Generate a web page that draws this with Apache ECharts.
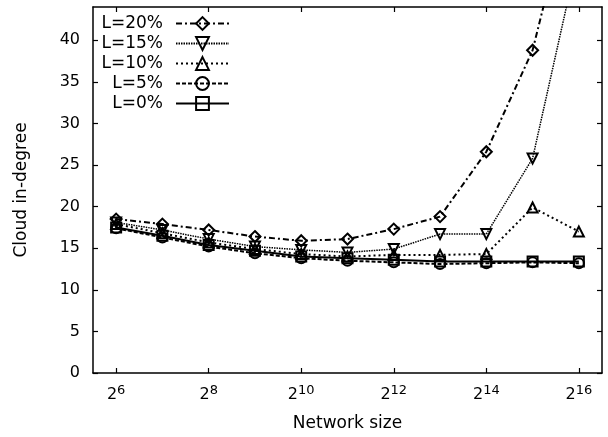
<!DOCTYPE html>
<html><head><meta charset="utf-8">
<script src="https://cdn.jsdelivr.net/npm/echarts@6/dist/echarts.min.js"></script>
<style>html,body{margin:0;padding:0;background:#fff}#c{width:608px;height:437px}</style>
</head><body><div id="c"></div>
<script>
// ---- data ----
const exponents = [6, 7, 8, 9, 10, 11, 12, 13, 14, 15, 16];
const seriesNames = ['L=20%', 'L=15%', 'L=10%', 'L=5%', 'L=0%'];
const l20 = [18.5, 17.9, 17.2, 16.4, 15.9, 16.1, 17.3, 18.8, 26.6, 38.8, 61.2];
const l15 = [18.1, 17.2, 16.1, 15.2, 14.8, 14.5, 14.9, 16.7, 16.7, 25.8, 50.7];
const l10 = [17.9, 16.8, 15.7, 14.9, 14.3, 14.0, 14.2, 14.2, 14.3, 19.9, 17.0];
const l5  = [17.4, 16.3, 15.2, 14.4, 13.8, 13.5, 13.3, 13.1, 13.2, 13.3, 13.2];
const l0  = [17.5, 16.5, 15.4, 14.7, 14.0, 13.8, 13.6, 13.4, 13.4, 13.4, 13.4];
const xTickExponents = [6, 8, 10, 12, 14, 16];
const yTickValues = [0, 5, 10, 15, 20, 25, 30, 35, 40];

// ---- styles ----
const FONT = 'DejaVu Sans';
const seriesValues = [l20, l15, l10, l5, l0];
const styles = [
  {symbol: 'diamond', size: 11, dash: [6, 3, 2, 3], width: 2},
  {symbol: 'path://M0,0L10,0L5,9Z', size: 10, dash: [1.5, 1], width: 1.5},
  {symbol: 'triangle', size: 10, dash: [2, 3], width: 2},
  {symbol: 'circle', size: 10, dash: [4, 2], width: 2},
  {symbol: 'rect', size: 10, dash: 'solid', width: 2}
];

const series = seriesNames.map((name, i) => ({
  name: name,
  type: 'line',
  xAxisIndex: 0,
  yAxisIndex: 0,
  data: exponents.map((e, j) => [e, seriesValues[i][j]]),
  symbol: styles[i].symbol,
  symbolSize: styles[i].size,
  showAllSymbol: true,
  clip: true,
  z: 10 - i,
  itemStyle: {color: 'rgba(255,255,255,0)', borderColor: '#000', borderWidth: 2},
  lineStyle: {color: '#000', width: styles[i].width, type: styles[i].dash},
  emphasis: {disabled: true},
  animation: false
}));

const axisCommon = {
  axisLine: {show: true, onZero: false, lineStyle: {color: '#000', width: 1.5}},
  splitLine: {show: false}
};

const chart = echarts.init(document.getElementById('c'), null, {renderer: 'canvas'});
chart.setOption({
  animation: false,
  backgroundColor: '#fff',
  grid: {left: 93, right: 6, top: 7, bottom: 62.5, containLabel: false},
  legend: {
    orient: 'vertical', right: 378, top: 15, align: 'right',
    itemWidth: 53, itemHeight: 16, itemGap: 3, padding: 0,
    textStyle: {fontFamily: FONT, fontSize: 17, color: '#000', padding: [0, 8, 0, 0]},
    data: seriesNames,
    selectedMode: false
  },
  xAxis: [
    Object.assign({}, axisCommon, {
      type: 'value', min: 5.5, max: 16.5, position: 'bottom',
      name: 'Network size', nameLocation: 'middle', nameGap: 42,
      nameTextStyle: {fontFamily: FONT, fontSize: 17, color: '#000'},
      axisTick: {show: true, inside: true, length: 5, lineStyle: {color: '#000', width: 1.2}, customValues: xTickExponents},
      axisLabel: {
        show: true, margin: 11, customValues: xTickExponents,
        formatter: v => '{b|2}{s|' + v + '}',
        rich: {
          b: {fontFamily: FONT, fontSize: 16, lineHeight: 16, padding: [6, 0, 0, 0], color: '#000'},
          s: {fontFamily: FONT, fontSize: 13, lineHeight: 12, verticalAlign: 'top', color: '#000'}
        }
      }
    }),
    Object.assign({}, axisCommon, {
      type: 'value', min: 5.5, max: 16.5, position: 'top',
      axisTick: {show: true, inside: true, length: 5, lineStyle: {color: '#000', width: 1.2}, customValues: xTickExponents},
      axisLabel: {show: false}
    })
  ],
  yAxis: [
    Object.assign({}, axisCommon, {
      type: 'value', min: 0, max: 44, interval: 5, position: 'left',
      name: 'Cloud in-degree', nameLocation: 'middle', nameGap: 63,
      nameTextStyle: {fontFamily: FONT, fontSize: 17, color: '#000'},
      axisTick: {show: true, inside: true, length: 5, lineStyle: {color: '#000', width: 1.2}, customValues: yTickValues},
      axisLabel: {show: true, margin: 13, customValues: yTickValues,
        fontFamily: FONT, fontSize: 16, color: '#000'}
    }),
    Object.assign({}, axisCommon, {
      type: 'value', min: 0, max: 44, interval: 5, position: 'right',
      axisTick: {show: true, inside: true, length: 5, lineStyle: {color: '#000', width: 1.2}, customValues: yTickValues},
      axisLabel: {show: false}
    })
  ],
  series: series
});
</script>
</body></html>
